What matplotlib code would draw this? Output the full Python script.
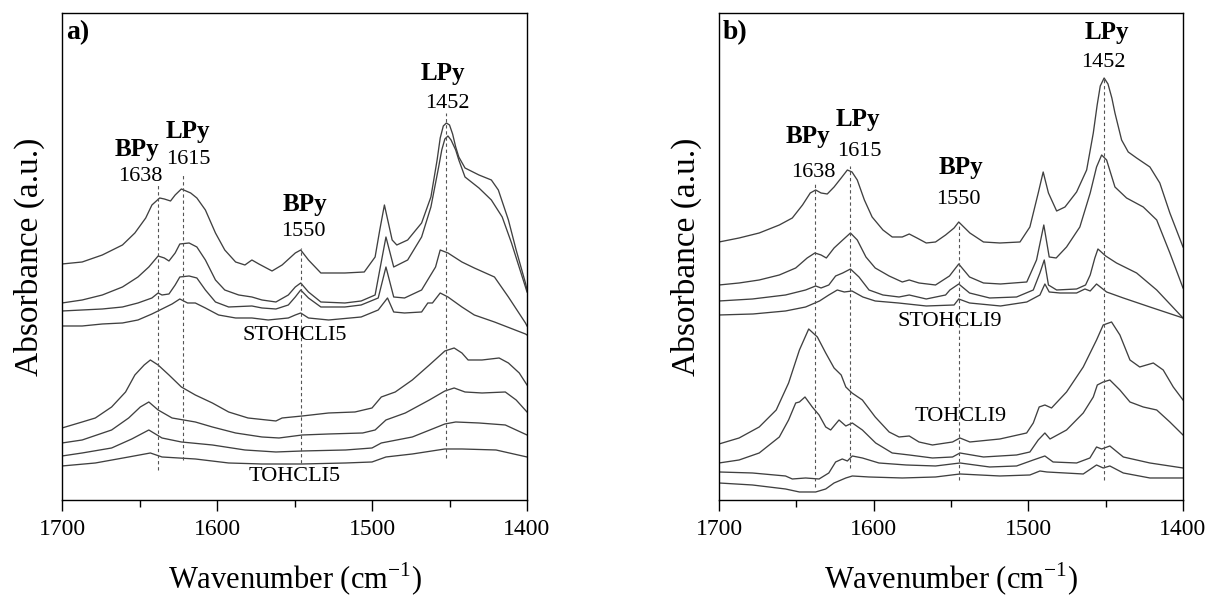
import matplotlib
matplotlib.use('Agg')
import matplotlib.pyplot as plt
from matplotlib.ticker import MultipleLocator

plt.rcParams['font.family'] = ['Liberation Serif', 'DejaVu Serif']
plt.rcParams['mathtext.fontset'] = 'custom'
plt.rcParams['mathtext.rm'] = 'Liberation Serif'

# ---- panel a) STOHCLI5 (upper four) and TOHCLI5 (lower four) ----
a1_wn = [1700, 1687, 1674, 1661, 1653, 1646, 1642, 1637, 1634, 1630, 1627, 1623, 1617, 1613, 1607.5, 1601, 1595, 1588, 1582, 1577.5,
         1573, 1564.5, 1558, 1549.5, 1546, 1541, 1533, 1517.5, 1505, 1498, 1495, 1492, 1487, 1484, 1477, 1468, 1462, 1458, 1456, 1454,
         1452, 1450, 1448, 1446, 1444, 1440, 1431, 1423, 1418.5, 1412, 1407, 1401, 1400]
a1_abs = [2.36, 2.38, 2.45, 2.55, 2.67, 2.82, 2.95, 3.02, 3.01, 2.99, 3.05, 3.11, 3.07, 3.02, 2.90, 2.67, 2.50, 2.38, 2.35, 2.40,
          2.36, 2.29, 2.35, 2.47, 2.50, 2.40, 2.27, 2.27, 2.28, 2.43, 2.70, 2.95, 2.60, 2.55, 2.60, 2.77, 3.03, 3.40, 3.62, 3.74,
          3.77, 3.75, 3.66, 3.53, 3.43, 3.32, 3.25, 3.20, 3.10, 2.80, 2.50, 2.17, 2.10]

a2_wn = [1700, 1687, 1674, 1661, 1651, 1644, 1638, 1634, 1631, 1627, 1624, 1618, 1613, 1607.5, 1601, 1595, 1586, 1577.5, 1571, 1562,
         1554, 1549.5, 1546, 1541, 1533, 1517.5, 1507, 1498, 1495, 1491, 1486, 1477, 1468, 1462, 1457, 1455, 1453, 1451, 1449, 1446,
         1444, 1440, 1431, 1423, 1416, 1410, 1401, 1400]
a2_abs = [1.97, 2.00, 2.05, 2.13, 2.23, 2.33, 2.44, 2.42, 2.39, 2.47, 2.56, 2.57, 2.53, 2.40, 2.20, 2.10, 2.05, 2.03, 2.00, 1.98,
          2.05, 2.13, 2.17, 2.08, 1.98, 1.97, 1.99, 2.05, 2.30, 2.63, 2.33, 2.40, 2.63, 2.93, 3.33, 3.50, 3.61, 3.64, 3.60, 3.50,
          3.40, 3.23, 3.12, 3.00, 2.83, 2.57, 2.13, 2.08]

a3_wn = [1700, 1687, 1674, 1661, 1651, 1642, 1638, 1635.5, 1631, 1627, 1624, 1618, 1613, 1607.5, 1601, 1592.5, 1577.5, 1571, 1562, 1554,
         1549.5, 1546, 1541, 1533, 1517.5, 1507, 1496, 1491, 1486, 1479, 1468, 1459, 1456, 1451, 1442, 1434, 1421, 1412, 1401, 1400]
a3_abs = [1.89, 1.90, 1.91, 1.93, 1.97, 2.02, 2.07, 2.05, 2.06, 2.15, 2.23, 2.24, 2.22, 2.10, 1.98, 1.93, 1.94, 1.92, 1.91, 1.95,
          2.03, 2.10, 2.02, 1.93, 1.93, 1.95, 2.02, 2.33, 2.03, 2.02, 2.10, 2.33, 2.50, 2.47, 2.38, 2.32, 2.23, 2.03, 1.77, 1.74]

a4_wn = [1700, 1687, 1674, 1661, 1651, 1642, 1635.5, 1629, 1624, 1619, 1614, 1607.5, 1599, 1588, 1577.5, 1567, 1554, 1549.5, 1546, 1541,
         1528, 1507, 1496, 1490, 1486, 1479, 1468, 1464, 1461, 1456, 1451, 1442, 1434, 1421, 1401, 1400]
a4_abs = [1.74, 1.74, 1.76, 1.77, 1.80, 1.86, 1.91, 1.96, 2.01, 1.97, 1.97, 1.92, 1.85, 1.82, 1.82, 1.80, 1.82, 1.85, 1.87, 1.82,
          1.80, 1.83, 1.90, 2.02, 1.88, 1.87, 1.88, 1.97, 1.97, 2.07, 2.03, 1.93, 1.85, 1.78, 1.66, 1.65]

a5_wn = [1700, 1687, 1678.5, 1668, 1659, 1653, 1647, 1643, 1638, 1631, 1623, 1614, 1603, 1592.5, 1580, 1562, 1558, 1545, 1528, 1511,
         1500, 1494, 1485, 1474, 1463, 1453, 1447, 1442, 1438, 1429, 1418, 1412, 1405, 1400]
a5_abs = [0.72, 0.78, 0.82, 0.93, 1.08, 1.25, 1.35, 1.40, 1.35, 1.25, 1.13, 1.05, 0.97, 0.88, 0.82, 0.79, 0.82, 0.84, 0.87, 0.88,
          0.92, 1.03, 1.08, 1.20, 1.35, 1.49, 1.52, 1.47, 1.40, 1.40, 1.42, 1.37, 1.27, 1.15]

a6_wn = [1700, 1687, 1668, 1657, 1649.5, 1644, 1638, 1629, 1621.5, 1614, 1603, 1588, 1571, 1560, 1545, 1528, 1506, 1498, 1491, 1478.5,
         1463, 1453, 1447, 1440, 1429, 1414, 1407, 1400]
a6_abs = [0.57, 0.60, 0.70, 0.82, 0.93, 0.98, 0.90, 0.82, 0.80, 0.78, 0.73, 0.67, 0.63, 0.62, 0.65, 0.66, 0.67, 0.70, 0.80, 0.87,
          1.00, 1.09, 1.12, 1.08, 1.07, 1.08, 1.00, 0.88]

a7_wn = [1700, 1687, 1668, 1655, 1644, 1635.5, 1623, 1603, 1582, 1562, 1545, 1517, 1500, 1494, 1474, 1453, 1446, 1431, 1414, 1400]
a7_abs = [0.44, 0.47, 0.52, 0.61, 0.70, 0.62, 0.58, 0.55, 0.50, 0.48, 0.49, 0.50, 0.52, 0.57, 0.63, 0.76, 0.78, 0.77, 0.75, 0.65]

a8_wn = [1700, 1678.5, 1657, 1643, 1635.5, 1614, 1592.5, 1571, 1545, 1517, 1500, 1491, 1474, 1453, 1442, 1420, 1400]
a8_abs = [0.34, 0.37, 0.43, 0.47, 0.43, 0.41, 0.37, 0.36, 0.36, 0.37, 0.38, 0.43, 0.46, 0.51, 0.51, 0.50, 0.43]

# ---- panel b) STOHCLI9 (upper four) and TOHCLI9 (lower four) ----
b1_wn = [1700, 1687, 1674, 1661, 1652.6, 1646, 1641, 1637.5, 1634, 1630, 1625.6, 1621, 1617, 1614, 1610.6, 1606, 1601, 1594, 1588, 1581.5,
         1577, 1572, 1566, 1560, 1553.5, 1548, 1545, 1537.8, 1529, 1518.4, 1505.4, 1499, 1493.6, 1490.4, 1487, 1481.7, 1476.3, 1468.8, 1462.3, 1458,
         1455.5, 1453.5, 1451, 1448.5, 1446, 1444, 1439.7, 1435.4, 1430, 1421.4, 1415, 1408.5, 1400]
b1_abs = [2.58, 2.62, 2.67, 2.75, 2.82, 2.95, 3.07, 3.10, 3.07, 3.06, 3.13, 3.22, 3.30, 3.28, 3.20, 3.00, 2.83, 2.70, 2.63, 2.63,
          2.66, 2.62, 2.57, 2.58, 2.65, 2.72, 2.78, 2.67, 2.58, 2.57, 2.58, 2.73, 3.07, 3.28, 3.07, 2.89, 2.93, 3.08, 3.30, 3.67,
          3.95, 4.14, 4.22, 4.16, 4.02, 3.87, 3.60, 3.48, 3.42, 3.33, 3.17, 2.87, 2.53]

b2_wn = [1700, 1687, 1674, 1661, 1650.4, 1643, 1638, 1634, 1630.6, 1625.6, 1620, 1615, 1610.6, 1605, 1599, 1590, 1581.5, 1577, 1570.7, 1560,
         1551, 1545, 1538, 1529, 1518, 1501, 1494.7, 1490, 1486.5, 1482, 1475.3, 1466.7, 1460, 1455.9, 1452.6, 1449.4, 1444, 1436.5, 1425.7, 1417,
         1408.5, 1400]
b2_abs = [2.15, 2.17, 2.20, 2.25, 2.32, 2.42, 2.47, 2.45, 2.42, 2.52, 2.60, 2.67, 2.60, 2.43, 2.32, 2.24, 2.18, 2.20, 2.17, 2.15,
          2.24, 2.36, 2.23, 2.17, 2.16, 2.18, 2.40, 2.75, 2.43, 2.42, 2.53, 2.73, 3.07, 3.33, 3.45, 3.40, 3.13, 3.02, 2.93, 2.80,
          2.47, 2.12]

b3_wn = [1700, 1678.4, 1657, 1644, 1637.5, 1634, 1629, 1624.6, 1620, 1615, 1609.5, 1603, 1594, 1583.6, 1577, 1566, 1553.5, 1550.7, 1545, 1538,
         1525, 1507.6, 1496.8, 1492.5, 1489.7, 1487, 1481.7, 1468.8, 1463, 1460, 1457, 1455, 1450, 1443, 1430, 1417, 1400]
b3_abs = [1.99, 2.01, 2.05, 2.10, 2.14, 2.12, 2.15, 2.24, 2.27, 2.31, 2.23, 2.10, 2.05, 2.03, 2.05, 2.01, 2.05, 2.10, 2.16, 2.07,
          2.02, 2.03, 2.10, 2.27, 2.40, 2.15, 2.10, 2.11, 2.15, 2.25, 2.42, 2.51, 2.44, 2.37, 2.27, 2.10, 1.82]

b4_wn = [1700, 1678, 1657, 1644, 1635, 1629, 1623.5, 1619, 1614, 1607, 1599, 1584, 1566, 1548, 1545, 1538, 1518, 1501, 1492.5, 1489.3,
         1486.5, 1479.6, 1468.8, 1463.4, 1460, 1455.9, 1449.4, 1438.6, 1421.4, 1400]
b4_abs = [1.85, 1.86, 1.89, 1.93, 1.99, 2.05, 2.10, 2.08, 2.09, 2.03, 1.99, 1.97, 1.94, 1.95, 2.01, 1.97, 1.94, 1.98, 2.05, 2.16,
          2.08, 2.07, 2.07, 2.11, 2.09, 2.16, 2.08, 2.02, 1.93, 1.82]

b5_wn = [1700, 1687, 1674, 1663, 1655, 1648, 1642, 1636.4, 1631, 1625.6, 1621, 1618, 1614, 1607.3, 1599, 1590, 1583.6, 1577, 1570.7, 1562,
         1549, 1544.2, 1537.8, 1518.4, 1501.1, 1496.8, 1493, 1489.3, 1485, 1475.3, 1464.5, 1455.9, 1451.6, 1446.2, 1440.8, 1434.3, 1428, 1419.2, 1412.8, 1406.3,
         1400]
b5_abs = [0.56, 0.62, 0.73, 0.90, 1.17, 1.50, 1.71, 1.63, 1.47, 1.32, 1.25, 1.13, 1.07, 1.00, 0.83, 0.68, 0.63, 0.64, 0.58, 0.55,
          0.58, 0.62, 0.58, 0.61, 0.67, 0.77, 0.93, 0.95, 0.92, 1.08, 1.33, 1.60, 1.75, 1.78, 1.65, 1.40, 1.33, 1.37, 1.30, 1.13,
          1.00]

b6_wn = [1700, 1687, 1674, 1661, 1655, 1650.4, 1648, 1644.4, 1639.7, 1635.3, 1631, 1627.8, 1622.4, 1618, 1613.8, 1607.3, 1598.7, 1588, 1577, 1562,
         1549, 1544.2, 1529, 1507.6, 1499, 1493.6, 1489.3, 1486, 1475.3, 1464.5, 1458, 1455.4, 1451.6, 1447.3, 1440.8, 1434.3, 1425.7, 1417, 1408.5, 1400]
b6_abs = [0.37, 0.40, 0.47, 0.63, 0.80, 0.97, 0.98, 1.03, 0.93, 0.85, 0.73, 0.70, 0.80, 0.74, 0.77, 0.70, 0.57, 0.47, 0.45, 0.42,
          0.43, 0.47, 0.43, 0.45, 0.48, 0.60, 0.67, 0.61, 0.70, 0.87, 1.03, 1.15, 1.18, 1.20, 1.10, 0.98, 0.93, 0.90, 0.78, 0.65]

b7_wn = [1700, 1678.4, 1657, 1652.6, 1644, 1635.3, 1629, 1624.6, 1620.3, 1617, 1613.8, 1607.3, 1596.6, 1579, 1560, 1544.2, 1525, 1507.6, 1496.8, 1489.3,
         1484, 1468.8, 1460.2, 1455.9, 1452.6, 1447.3, 1438.6, 1421.4, 1400]
b7_abs = [0.28, 0.27, 0.24, 0.21, 0.22, 0.21, 0.27, 0.38, 0.41, 0.39, 0.44, 0.42, 0.37, 0.35, 0.34, 0.37, 0.33, 0.34, 0.40, 0.44,
          0.38, 0.37, 0.42, 0.53, 0.51, 0.54, 0.43, 0.37, 0.32]

b8_wn = [1700, 1678.4, 1657, 1648, 1637.5, 1631, 1625.6, 1618, 1613.8, 1603, 1581.5, 1560, 1544.2, 1518.4, 1499, 1492.5, 1488, 1464.5, 1455.9, 1451.6,
         1447.3, 1438.6, 1421.4, 1400]
b8_abs = [0.17, 0.15, 0.11, 0.08, 0.08, 0.11, 0.17, 0.22, 0.24, 0.23, 0.22, 0.23, 0.26, 0.24, 0.25, 0.29, 0.28, 0.26, 0.35, 0.32,
          0.34, 0.27, 0.22, 0.22]

# band markers: (position, top, bottom)
a_bands = [(1638, 3.15, 0.30), (1622, 3.25, 0.40), (1546, 2.52, 0.37), (1452, 3.87, 0.42)]
b_bands = [(1638, 3.16, 0.13), (1615, 3.34, 0.32), (1545, 2.77, 0.20), (1451, 4.21, 0.20)]

# labels: (text, wn, abs, bold)
a_labels = [('BPy', 1651.6, 3.50, True), ('1638', 1649.7, 3.23, False),
            ('LPy', 1618.7, 3.68, True), ('1615', 1618.7, 3.40, False),
            ('BPy', 1543, 2.95, True), ('1550', 1544, 2.68, False),
            ('LPy', 1454, 4.26, True), ('1452', 1451.6, 3.96, False),
            ('STOHCLI5', 1549.7, 1.64, False), ('TOHCLI5', 1549.7, 0.23, False)]
b_labels = [('BPy', 1642.5, 3.63, True), ('1638', 1639.2, 3.27, False),
            ('LPy', 1610.1, 3.80, True), ('1615', 1609.5, 3.48, False),
            ('BPy', 1543.6, 3.32, True), ('1550', 1545.5, 3.00, False),
            ('LPy', 1449.2, 4.67, True), ('1452', 1451.8, 4.37, False),
            ('STOHCLI9', 1550.7, 1.78, False), ('TOHCLI9', 1543.6, 0.83, False)]

panels = [
    ('a)', [(a1_wn, a1_abs), (a2_wn, a2_abs), (a3_wn, a3_abs), (a4_wn, a4_abs),
            (a5_wn, a5_abs), (a6_wn, a6_abs), (a7_wn, a7_abs), (a8_wn, a8_abs)], a_bands, a_labels),
    ('b)', [(b1_wn, b1_abs), (b2_wn, b2_abs), (b3_wn, b3_abs), (b4_wn, b4_abs),
            (b5_wn, b5_abs), (b6_wn, b6_abs), (b7_wn, b7_abs), (b8_wn, b8_abs)], b_bands, b_labels),
]

fig = plt.figure(figsize=(12.09, 5.96), dpi=100)
rects = [[0.0513, 0.1611, 0.3846, 0.8171], [0.5947, 0.1611, 0.3838, 0.8171]]

for rect, (tag, curves, bands, labels) in zip(rects, panels):
    ax = fig.add_axes(rect)
    for wn, ab in curves:
        ax.plot(wn, ab, color='#404040', lw=0.95, solid_joinstyle='round')
    for pos, top, bot in bands:
        ax.vlines(pos, bot, top, colors='#555555', linestyles=(0, (3, 2.5)), lw=0.8)
    for txt, x, y, bold in labels:
        ax.text(x, y, txt, ha='center', va='center',
                fontsize=18 if bold else 16, fontweight='bold' if bold else 'normal')
    ax.text(0.008, 0.96, tag, transform=ax.transAxes, ha='left', va='center',
            fontsize=20, fontweight='bold')

    ax.set_xlim(1700, 1400)
    ax.set_ylim(0, 4.87)
    ax.xaxis.set_major_locator(MultipleLocator(100))
    ax.xaxis.set_minor_locator(MultipleLocator(50))
    ax.set_yticks([])
    ax.tick_params(axis='x', which='major', direction='out', length=8, width=1,
                   labelsize=17, pad=6)
    ax.tick_params(axis='x', which='minor', direction='out', length=5, width=1)
    for sp in ax.spines.values():
        sp.set_linewidth(1.0)
    ax.set_xlabel('Wavenumber (cm$^{\\mathregular{-1}}$)', fontsize=22, labelpad=15)
    ax.set_ylabel('Absorbance (a.u.)', fontsize=24, labelpad=12)

fig.savefig('out.png', dpi=100)
